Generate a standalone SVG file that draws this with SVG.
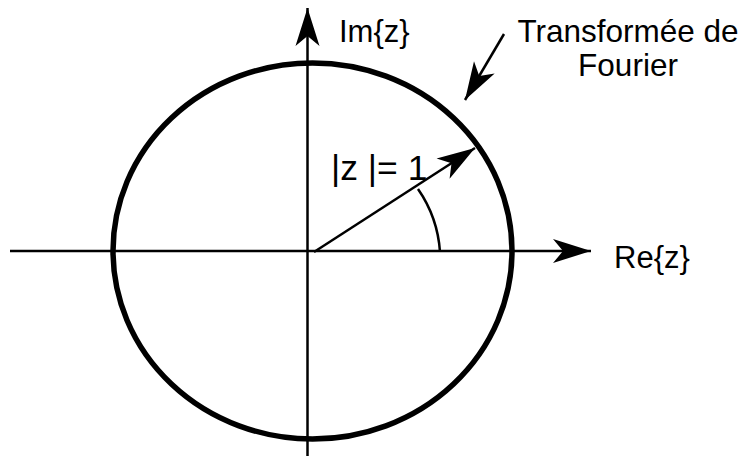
<svg xmlns="http://www.w3.org/2000/svg" width="747" height="459" viewBox="0 0 747 459">
<defs>
<style>
.ln{stroke:#000;stroke-width:2.5;fill:none}
.t{font-family:"Liberation Sans",Arial,sans-serif;fill:#000}
</style>
<marker id="ah" markerUnits="userSpaceOnUse" markerWidth="50" markerHeight="30" viewBox="-40 -15 42 30" refX="0" refY="0" orient="auto" overflow="visible">
<path d="M0,0 L-38,-12 L-28,0 L-38,12 Z" fill="#000"/>
</marker>
</defs>
<rect width="747" height="459" fill="#fff"/>
<g id="circle">
<ellipse cx="312.5" cy="251" rx="199.5" ry="188" fill="none" stroke="#000" stroke-width="5.5"/>
</g>
<g id="connectors">
<line class="ln" x1="10" y1="251" x2="591" y2="251" marker-end="url(#ah)"/>
<line class="ln" x1="307.5" y1="456" x2="307.5" y2="8" marker-end="url(#ah)"/>
<line class="ln" x1="314" y1="252" x2="475" y2="148" marker-end="url(#ah)"/>
<line class="ln" x1="504" y1="34" x2="465" y2="100" marker-end="url(#ah)"/>
<path class="ln" d="M418,189 A125,125 0 0 1 440,252"/>
</g>
<g id="labels">
<text class="t" x="339" y="42" font-size="31">Im{z}</text>
<text class="t" x="614" y="268" font-size="31">Re{z}</text>
<text class="t" x="628" y="42" font-size="31.5" text-anchor="middle">Transformée de</text>
<text class="t" x="628" y="76" font-size="31.5" text-anchor="middle">Fourier</text>
<text class="t" x="331" y="180" font-size="35.5">|z |= 1</text>
</g>
</svg>
